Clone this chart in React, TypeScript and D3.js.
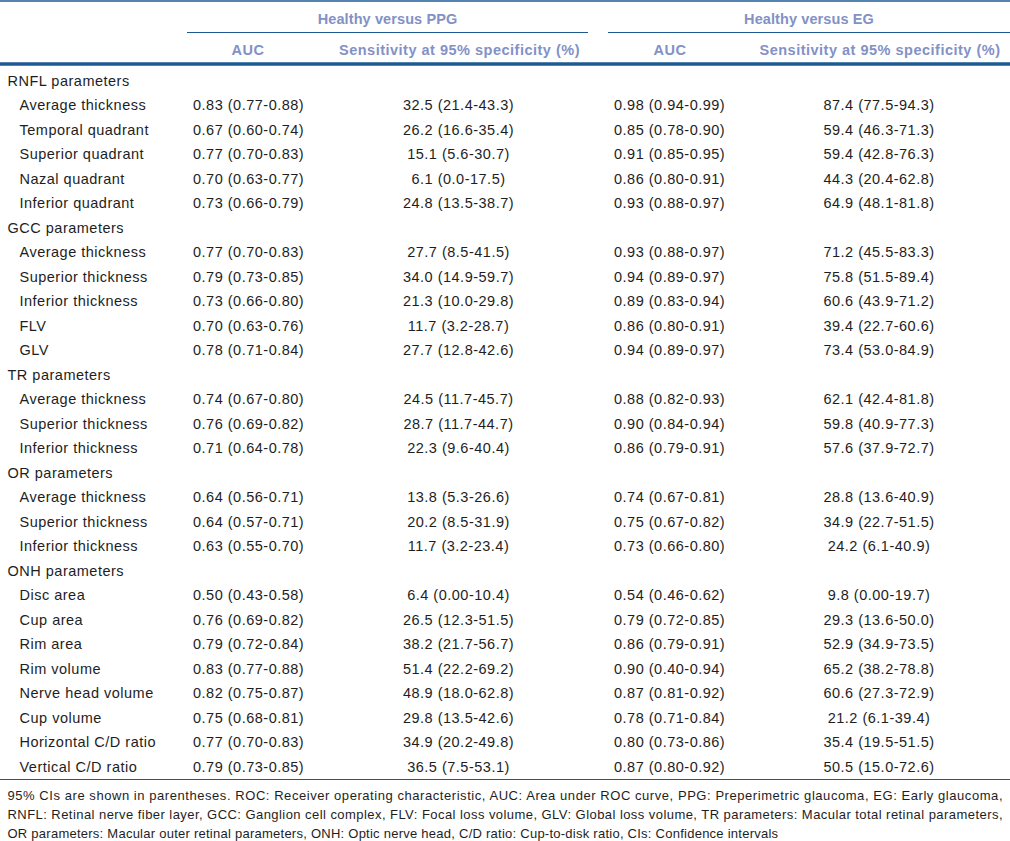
import React from "react";
import * as d3 from "d3";

const groupHeaders = ["Healthy versus PPG", "Healthy versus EG"];
const colHeaders = ["AUC", "Sensitivity at 95% specificity (%)"];

const rowLabels = [
  "RNFL parameters", "Average thickness", "Temporal quadrant", "Superior quadrant", "Nazal quadrant", "Inferior quadrant",
  "GCC parameters", "Average thickness", "Superior thickness", "Inferior thickness", "FLV", "GLV",
  "TR parameters", "Average thickness", "Superior thickness", "Inferior thickness",
  "OR parameters", "Average thickness", "Superior thickness", "Inferior thickness",
  "ONH parameters", "Disc area", "Cup area", "Rim area", "Rim volume", "Nerve head volume", "Cup volume",
  "Horizontal C/D ratio", "Vertical C/D ratio",
];
const isSection = [
  true, false, false, false, false, false,
  true, false, false, false, false, false,
  true, false, false, false,
  true, false, false, false,
  true, false, false, false, false, false, false, false, false,
];
const aucPPG = [
  "", "0.83 (0.77-0.88)", "0.67 (0.60-0.74)", "0.77 (0.70-0.83)", "0.70 (0.63-0.77)", "0.73 (0.66-0.79)",
  "", "0.77 (0.70-0.83)", "0.79 (0.73-0.85)", "0.73 (0.66-0.80)", "0.70 (0.63-0.76)", "0.78 (0.71-0.84)",
  "", "0.74 (0.67-0.80)", "0.76 (0.69-0.82)", "0.71 (0.64-0.78)",
  "", "0.64 (0.56-0.71)", "0.64 (0.57-0.71)", "0.63 (0.55-0.70)",
  "", "0.50 (0.43-0.58)", "0.76 (0.69-0.82)", "0.79 (0.72-0.84)", "0.83 (0.77-0.88)", "0.82 (0.75-0.87)",
  "0.75 (0.68-0.81)", "0.77 (0.70-0.83)", "0.79 (0.73-0.85)",
];
const sensPPG = [
  "", "32.5 (21.4-43.3)", "26.2 (16.6-35.4)", "15.1 (5.6-30.7)", "6.1 (0.0-17.5)", "24.8 (13.5-38.7)",
  "", "27.7 (8.5-41.5)", "34.0 (14.9-59.7)", "21.3 (10.0-29.8)", "11.7 (3.2-28.7)", "27.7 (12.8-42.6)",
  "", "24.5 (11.7-45.7)", "28.7 (11.7-44.7)", "22.3 (9.6-40.4)",
  "", "13.8 (5.3-26.6)", "20.2 (8.5-31.9)", "11.7 (3.2-23.4)",
  "", "6.4 (0.00-10.4)", "26.5 (12.3-51.5)", "38.2 (21.7-56.7)", "51.4 (22.2-69.2)", "48.9 (18.0-62.8)",
  "29.8 (13.5-42.6)", "34.9 (20.2-49.8)", "36.5 (7.5-53.1)",
];
const aucEG = [
  "", "0.98 (0.94-0.99)", "0.85 (0.78-0.90)", "0.91 (0.85-0.95)", "0.86 (0.80-0.91)", "0.93 (0.88-0.97)",
  "", "0.93 (0.88-0.97)", "0.94 (0.89-0.97)", "0.89 (0.83-0.94)", "0.86 (0.80-0.91)", "0.94 (0.89-0.97)",
  "", "0.88 (0.82-0.93)", "0.90 (0.84-0.94)", "0.86 (0.79-0.91)",
  "", "0.74 (0.67-0.81)", "0.75 (0.67-0.82)", "0.73 (0.66-0.80)",
  "", "0.54 (0.46-0.62)", "0.79 (0.72-0.85)", "0.86 (0.79-0.91)", "0.90 (0.40-0.94)", "0.87 (0.81-0.92)",
  "0.78 (0.71-0.84)", "0.80 (0.73-0.86)", "0.87 (0.80-0.92)",
];
const sensEG = [
  "", "87.4 (77.5-94.3)", "59.4 (46.3-71.3)", "59.4 (42.8-76.3)", "44.3 (20.4-62.8)", "64.9 (48.1-81.8)",
  "", "71.2 (45.5-83.3)", "75.8 (51.5-89.4)", "60.6 (43.9-71.2)", "39.4 (22.7-60.6)", "73.4 (53.0-84.9)",
  "", "62.1 (42.4-81.8)", "59.8 (40.9-77.3)", "57.6 (37.9-72.7)",
  "", "28.8 (13.6-40.9)", "34.9 (22.7-51.5)", "24.2 (6.1-40.9)",
  "", "9.8 (0.00-19.7)", "29.3 (13.6-50.0)", "52.9 (34.9-73.5)", "65.2 (38.2-78.8)", "60.6 (27.3-72.9)",
  "21.2 (6.1-39.4)", "35.4 (19.5-51.5)", "50.5 (15.0-72.6)",
];
const footnotes = [
  "95% CIs are shown in parentheses. ROC: Receiver operating characteristic, AUC: Area under ROC curve, PPG: Preperimetric glaucoma, EG: Early glaucoma,",
  "RNFL: Retinal nerve fiber layer, GCC: Ganglion cell complex, FLV: Focal loss volume, GLV: Global loss volume, TR parameters: Macular total retinal parameters,",
  "OR parameters: Macular outer retinal parameters, ONH: Optic nerve head, C/D ratio: Cup-to-disk ratio, CIs: Confidence intervals",
];
const footJustified = [true, true, false];

const W = 1010;
const H = 841;
const FONT = "'Liberation Sans', Arial, Helvetica, sans-serif";
const TEXT = "#1e1e1e";
const HEAD = "#8291c6";
const LINE = "#1d5a94";

export default function App() {
  const y = d3.scaleLinear().domain([0, rowLabels.length - 1]).range([85.5, 771.5]);
  const groupX = d3.scaleOrdinal<string, [number, number]>().domain(groupHeaders).range([[187, 588], [608, 1010]]);
  const cols = [
    { data: aucPPG, x: 193, anchor: "start" },
    { data: sensPPG, x: 458.5, anchor: "middle" },
    { data: aucEG, x: 614, anchor: "start" },
    { data: sensEG, x: 879, anchor: "middle" },
  ];
  const headX = [[248, 459.5], [670, 880]];
  const bodyStyle = { fontFamily: FONT, fontSize: 14.5, letterSpacing: 0.5, fill: TEXT };
  const headStyle = { fontFamily: FONT, fontSize: 14.5, letterSpacing: 0.5, fill: HEAD, fontWeight: "bold" as const };
  const groupStyle = { ...headStyle, letterSpacing: 0.1 };
  const footY = d3.scaleLinear().domain([0, 2]).range([800, 838]);
  return (
    <div style={{ position: "absolute", left: 0, top: 0 }}>
      <svg width={W} height={H} style={{ display: "block", background: "#fff" }}>
        <line x1={0} x2={W} y1={1} y2={1} stroke={LINE} strokeWidth={1.5} />
        {groupHeaders.map((g, i) => {
          const [a, b] = groupX(g);
          return (
            <g key={g}>
              <text x={(a + b) / 2} y={23.5} textAnchor="middle" style={groupStyle}>{g}</text>
              <line x1={a} x2={b} y1={32.5} y2={32.5} stroke={LINE} strokeWidth={1.2} />
              {colHeaders.map((c, j) => (
                <text key={c} x={headX[i][j]} y={54.5} textAnchor="middle" style={headStyle}>{c}</text>
              ))}
            </g>
          );
        })}
        <line x1={0} x2={W} y1={64} y2={64} stroke={LINE} strokeWidth={3.5} />
        {rowLabels.map((lab, i) => (
          <g key={i}>
            <text x={isSection[i] ? 7.5 : 19.5} y={y(i)} style={bodyStyle}>{lab}</text>
            {cols.map((c, j) => c.data[i] ? (
              <text key={j} x={c.x} y={y(i)} textAnchor={c.anchor as any} style={bodyStyle}>{c.data[i]}</text>
            ) : null)}
          </g>
        ))}
        <line x1={0} x2={W} y1={779.5} y2={779.5} stroke={LINE} strokeWidth={1.2} />
        {footnotes.map((f, i) => (
          <text
            key={i}
            x={7.5}
            y={footY(i)}
            textLength={footJustified[i] ? 995 : undefined}
            lengthAdjust={footJustified[i] ? "spacing" : undefined}
            style={{ fontFamily: FONT, fontSize: 13, letterSpacing: footJustified[i] ? 0 : 0.25, fill: TEXT }}
          >{f}</text>
        ))}
      </svg>
    </div>
  );
}
